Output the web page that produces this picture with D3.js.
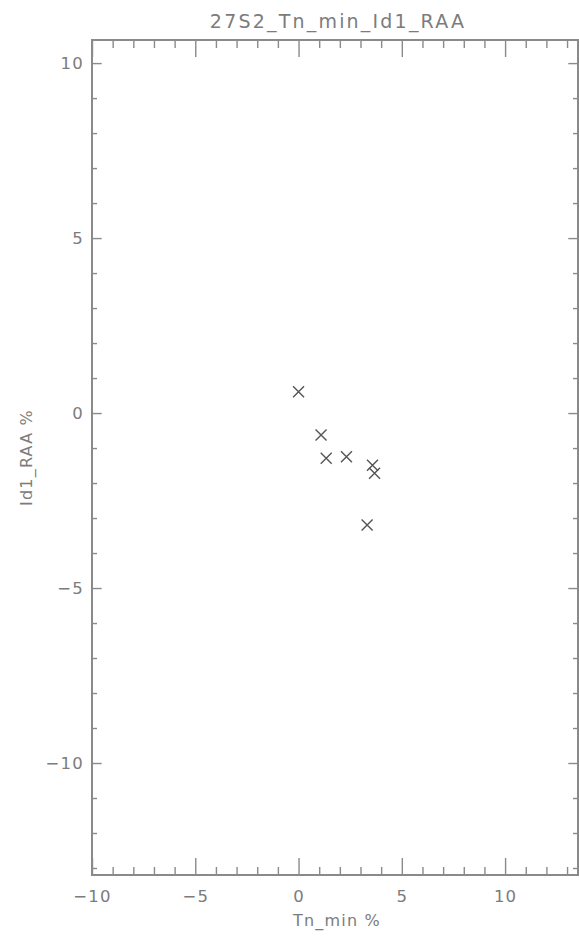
<!DOCTYPE html>
<html>
<head>
<meta charset="utf-8">
<script src="https://cdn.jsdelivr.net/npm/d3@7/dist/d3.min.js"></script>
<style>
  html, body { margin: 0; padding: 0; background: #fff; }
  svg { display: block; }
  text { font-family: "DejaVu Sans", "Liberation Sans", sans-serif; fill: #7c7c7c; }
</style>
</head>
<body>
<script>
// ---- data ----
const chartTitle = "27S2_Tn_min_Id1_RAA";
const xLabel = "Tn_min %";
const yLabel = "Id1_RAA %";
const xValues = [0.0, 1.09, 1.34, 2.32, 3.58, 3.68, 3.32];
const yValues = [0.61, -0.63, -1.29, -1.25, -1.49, -1.72, -3.2];
const xDomain = [-10, 13.53];
const yDomain = [-13.2, 10.66];
const xMajorTicks = [-10, -5, 0, 5, 10];
const yMajorTicks = [-10, -5, 0, 5, 10];

// ---- layout ----
const W = 579, H = 936;
const mLeft = 92, mRight = 578, mTop = 40, mBottom = 875;
const axisColor = "#8a8a8a";
const markColor = "#555";

const svg = d3.select("body").append("svg").attr("width", W).attr("height", H);

const x = d3.scaleLinear().domain(xDomain).range([mLeft, mRight]);
const y = d3.scaleLinear().domain(yDomain).range([mBottom, mTop]);

const xMinor = d3.range(Math.ceil(xDomain[0]), Math.floor(xDomain[1]) + 1).filter(v => v % 5 !== 0);
const yMinor = d3.range(Math.ceil(yDomain[0]), Math.floor(yDomain[1]) + 1).filter(v => v % 5 !== 0);

const fmt = v => (v < 0 ? "\u2212" + Math.abs(v) : String(v));

function styleAxis(g) {
  g.select(".domain").remove();
  g.selectAll(".tick line").attr("stroke", axisColor).attr("stroke-width", 1.4);
}

// bottom axis (ticks pointing up)
svg.append("g").attr("transform", `translate(0,${mBottom})`)
  .call(d3.axisBottom(x).tickValues(xMajorTicks).tickSize(-17).tickFormat(fmt))
  .call(styleAxis)
  .call(g => g.selectAll(".tick text").attr("font-size", 16.5).attr("letter-spacing", 1.2).attr("dy", "0.71em").attr("y", 15));
svg.append("g").attr("transform", `translate(0,${mBottom})`)
  .call(d3.axisBottom(x).tickValues(xMinor).tickSize(-8).tickFormat(""))
  .call(styleAxis);

// top axis (ticks pointing down)
svg.append("g").attr("transform", `translate(0,${mTop})`)
  .call(d3.axisTop(x).tickValues(xMajorTicks).tickSize(-17).tickFormat(""))
  .call(styleAxis);
svg.append("g").attr("transform", `translate(0,${mTop})`)
  .call(d3.axisTop(x).tickValues(xMinor).tickSize(-8).tickFormat(""))
  .call(styleAxis);

// left axis (ticks pointing right)
svg.append("g").attr("transform", `translate(${mLeft},0)`)
  .call(d3.axisLeft(y).tickValues(yMajorTicks).tickSize(-9.7).tickFormat(fmt))
  .call(styleAxis)
  .call(g => g.selectAll(".tick text").attr("font-size", 16.5).attr("letter-spacing", 1.2).attr("x", -8));
svg.append("g").attr("transform", `translate(${mLeft},0)`)
  .call(d3.axisLeft(y).tickValues(yMinor).tickSize(-5).tickFormat(""))
  .call(styleAxis);

// right axis (ticks pointing left)
svg.append("g").attr("transform", `translate(${mRight},0)`)
  .call(d3.axisRight(y).tickValues(yMajorTicks).tickSize(-9.7).tickFormat(""))
  .call(styleAxis);
svg.append("g").attr("transform", `translate(${mRight},0)`)
  .call(d3.axisRight(y).tickValues(yMinor).tickSize(-5).tickFormat(""))
  .call(styleAxis);

// frame
svg.append("rect")
  .attr("x", mLeft).attr("y", mTop)
  .attr("width", mRight - mLeft).attr("height", mBottom - mTop)
  .attr("fill", "none").attr("stroke", axisColor).attr("stroke-width", 2);

// title
svg.append("text")
  .attr("x", 338).attr("y", 28)
  .attr("text-anchor", "middle").attr("font-size", 19).attr("letter-spacing", 2.2)
  .text(chartTitle);

// x label
svg.append("text")
  .attr("x", 337).attr("y", 926)
  .attr("text-anchor", "middle").attr("font-size", 16).attr("letter-spacing", 1.2)
  .text(xLabel);

// y label
svg.append("text")
  .attr("transform", `translate(32,${(mTop + mBottom) / 2}) rotate(-90)`)
  .attr("text-anchor", "middle").attr("font-size", 16).attr("letter-spacing", 1.2)
  .text(yLabel);

// points (X markers)
const pts = xValues.map((v, i) => ({ x: v, y: yValues[i] }));
const s = 5.5;
svg.append("g").selectAll("path").data(pts).join("path")
  .attr("d", d => {
    const cx = x(d.x), cy = y(d.y);
    return `M${cx - s},${cy - s}L${cx + s},${cy + s}M${cx - s},${cy + s}L${cx + s},${cy - s}`;
  })
  .attr("stroke", markColor).attr("stroke-width", 1.4).attr("fill", "none");
</script>
</body>
</html>
